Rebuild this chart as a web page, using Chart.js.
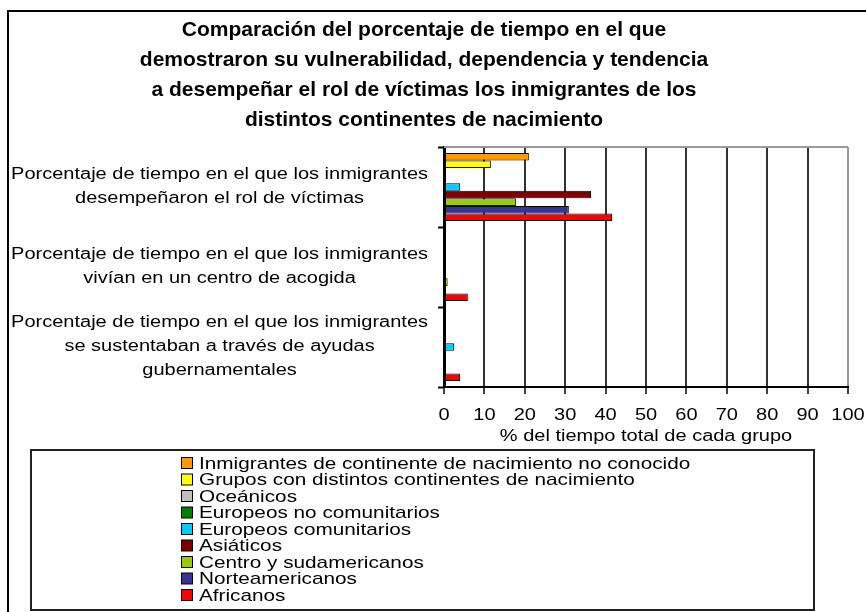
<!DOCTYPE html>
<html>
<head>
<meta charset="utf-8">
<script src="https://cdn.jsdelivr.net/npm/chart.js@4.4.1/dist/chart.umd.min.js"></script>
<style>
  html, body { margin: 0; padding: 0; background: #fff; }
  #wrap { width: 866px; height: 612px; position: relative; }
</style>
</head>
<body>
<div id="wrap"><canvas id="c" width="866" height="612"></canvas></div>
<script>
const titleLines = [
  'Comparación del porcentaje de tiempo en el que',
  'demostraron su vulnerabilidad, dependencia y tendencia',
  'a desempeñar el rol de víctimas los inmigrantes de los',
  'distintos continentes de nacimiento'
];
const categories = [
  ['Porcentaje de tiempo en el que los inmigrantes', 'desempeñaron el rol de víctimas'],
  ['Porcentaje de tiempo en el que los inmigrantes', 'vivían en un centro de acogida'],
  ['Porcentaje de tiempo en el que los inmigrantes', 'se sustentaban a través de ayudas', 'gubernamentales']
];
const seriesNames = [
  'Inmigrantes de continente de nacimiento no conocido',
  'Grupos con distintos continentes de nacimiento',
  'Oceánicos',
  'Europeos no comunitarios',
  'Europeos comunitarios',
  'Asiáticos',
  'Centro y sudamericanos',
  'Norteamericanos',
  'Africanos'
];
const seriesColors = ['#FF9900', '#FFFF00', '#C0C0C0', '#008000', '#00CCFF', '#800000', '#99CC00', '#333399', '#FF0000'];
const valuesNoConocido    = [21.0, 0, 0];
const valuesGrupos        = [11.6, 0, 0];
const valuesOceanicos     = [0, 0, 0];
const valuesEuropeosNoCom = [0, 0, 0];
const valuesEuropeosCom   = [4.0, 0, 2.5];
const valuesAsiaticos     = [36.4, 0, 0];
const valuesCentroSud     = [17.8, 0.9, 0];
const valuesNorteam       = [30.9, 0, 0];
const valuesAfricanos     = [41.6, 5.9, 4.0];
const seriesValues = [valuesNoConocido, valuesGrupos, valuesOceanicos, valuesEuropeosNoCom, valuesEuropeosCom, valuesAsiaticos, valuesCentroSud, valuesNorteam, valuesAfricanos];
const xAxisTitle = '% del tiempo total de cada grupo';
const xMin = 0, xMax = 100, xStep = 10;

const FONT = '"Liberation Sans", Arial, sans-serif';

// The reference renders its regular-weight text horizontally widened; reproduce that on the canvas context.
const canvas = document.getElementById('c');
const ctx2d = canvas.getContext('2d');
const SX = 1.25;
const nativeFill = ctx2d.fillText;
const nativeMeasure = ctx2d.measureText;
function stretchFor(c) { return /bold/.test(c.font) ? 1 : SX; }
ctx2d.fillText = function (text, x, y, maxWidth) {
  const s = stretchFor(this);
  if (s === 1) {
    return maxWidth === undefined ? nativeFill.call(this, text, x, y) : nativeFill.call(this, text, x, y, maxWidth);
  }
  this.save();
  this.translate(x, y);
  this.scale(s, 1);
  if (maxWidth === undefined) nativeFill.call(this, text, 0, 0);
  else nativeFill.call(this, text, 0, 0, maxWidth / s);
  this.restore();
};
ctx2d.measureText = function (text) {
  const m = nativeMeasure.call(this, text);
  const s = stretchFor(this);
  if (s === 1) return m;
  return {
    width: m.width * s,
    actualBoundingBoxLeft: m.actualBoundingBoxLeft * s,
    actualBoundingBoxRight: m.actualBoundingBoxRight * s,
    actualBoundingBoxAscent: m.actualBoundingBoxAscent,
    actualBoundingBoxDescent: m.actualBoundingBoxDescent,
    fontBoundingBoxAscent: m.fontBoundingBoxAscent,
    fontBoundingBoxDescent: m.fontBoundingBoxDescent
  };
};

const framePlugin = {
  id: 'frame',
  beforeDraw(chart) {
    const ctx = chart.ctx;
    ctx.save();
    ctx.fillStyle = '#fff';
    ctx.fillRect(0, 0, chart.width, chart.height);
    ctx.strokeStyle = '#000';
    ctx.lineWidth = 2;
    ctx.beginPath();
    ctx.moveTo(8, chart.height + 2);
    ctx.lineTo(8, 11);
    ctx.lineTo(chart.width + 2, 11);
    ctx.stroke();
    ctx.restore();
  },
  beforeDatasetsDraw(chart) {
    const a = chart.chartArea, ctx = chart.ctx;
    ctx.save();
    ctx.strokeStyle = '#999';
    ctx.lineWidth = 2;
    ctx.beginPath();
    ctx.moveTo(a.left, a.top);
    ctx.lineTo(a.right, a.top);
    ctx.stroke();
    ctx.restore();
  },
  afterDraw(chart) {
    const ctx = chart.ctx;
    ctx.save();
    ctx.strokeStyle = '#222';
    ctx.lineWidth = 2;
    ctx.strokeRect(31, 450, 783, 160);
    ctx.font = '16.6px ' + FONT;
    ctx.textBaseline = 'middle';
    chart.data.datasets.forEach((ds, i) => {
      const y = 463 + i * 16.5;
      ctx.fillStyle = ds.backgroundColor;
      ctx.fillRect(181.5, y - 5.5, 11, 11);
      ctx.lineWidth = 1;
      ctx.strokeStyle = '#000';
      ctx.strokeRect(181.5, y - 5.5, 11, 11);
      ctx.fillStyle = '#000';
      ctx.fillText(ds.label, 199, y + 1);
    });
    ctx.restore();
  }
};

new Chart(canvas, {
  type: 'bar',
  data: {
    labels: categories,
    datasets: seriesNames.map((name, i) => ({
      label: name,
      data: seriesValues[i],
      backgroundColor: seriesColors[i],
      borderColor: '#000',
      borderWidth: 1,
      borderSkipped: false,
      categoryPercentage: 0.85,
      barPercentage: 1.0
    }))
  },
  options: {
    indexAxis: 'y',
    responsive: false,
    animation: false,
    layout: { padding: { left: 0, right: 18, top: 0, bottom: 165 } },
    plugins: {
      legend: { display: false },
      tooltip: { enabled: false },
      title: {
        display: true,
        text: titleLines,
        color: '#000',
        font: { family: FONT, size: 21, weight: 'bold', lineHeight: '30px' },
        padding: { top: 15, bottom: 12 }
      }
    },
    scales: {
      x: {
        min: xMin, max: xMax,
        ticks: { stepSize: xStep, color: '#000', font: { family: FONT, size: 16 }, padding: 12 },
        grid: {
          color: (c) => (c.tick && c.tick.value === xMax) ? '#999' : '#333',
          lineWidth: 2,
          tickColor: '#000',
          tickLength: 7,
          tickWidth: 1.5
        },
        border: { color: '#000', width: 2 },
        title: { display: true, text: xAxisTitle, color: '#000', font: { family: FONT, size: 16 }, padding: { top: 0, bottom: 1 } },
        afterFit(scale) { scale.height = 60; scale.paddingLeft = 0; scale.paddingRight = 18; }
      },
      y: {
        ticks: { color: '#000', font: { family: FONT, size: 16, lineHeight: 1.5 }, crossAlign: 'center', padding: 10, autoSkip: false },
        grid: { drawOnChartArea: false, drawTicks: true, tickLength: 6, tickColor: '#000', tickWidth: 2, offset: true },
        border: { color: '#000', width: 3 },
        afterFit(scale) { scale.width = 444; scale.paddingTop = 0; scale.paddingBottom = 0; }
      }
    }
  },
  plugins: [framePlugin]
});
</script>
</body>
</html>
